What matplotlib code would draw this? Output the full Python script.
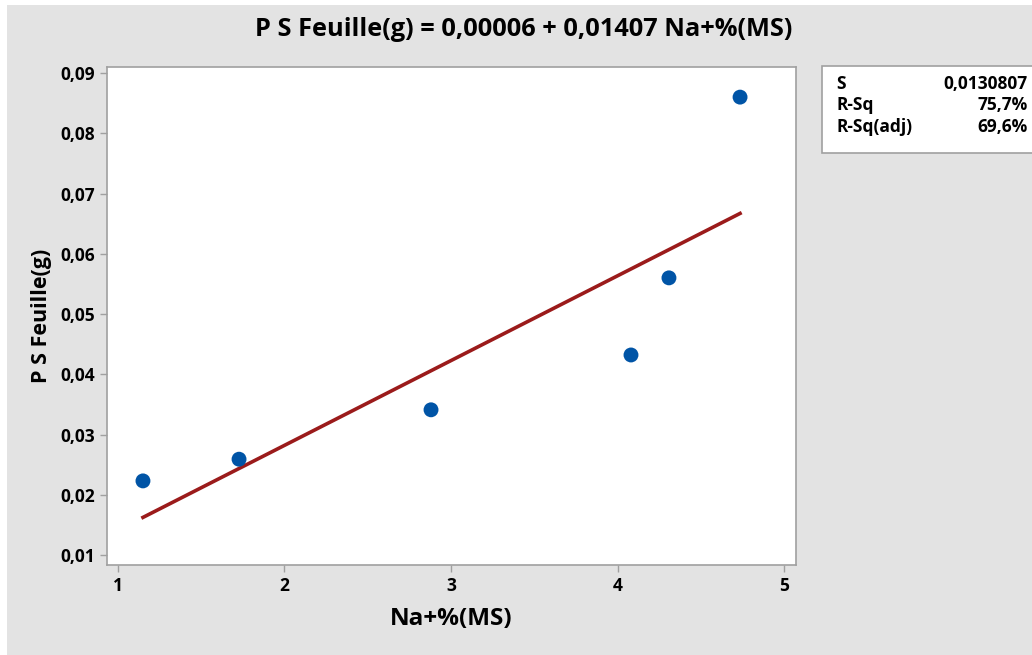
import matplotlib.pyplot as plt
import matplotlib.patches as patches
import numpy as np

# data
na_ms = [1.15, 1.727, 2.88, 4.081, 4.309, 4.736]
ps_feuille = [0.0223, 0.0259, 0.0341, 0.0432, 0.0560, 0.0860]
intercept = 0.00006
slope = 0.01407
x_ticks = [1, 2, 3, 4, 5]
y_ticks = [0.01, 0.02, 0.03, 0.04, 0.05, 0.06, 0.07, 0.08, 0.09]
stats_names = ["S", "R-Sq", "R-Sq(adj)"]
stats_vals = ["0,0130807", "75,7%", "69,6%"]

plt.rcParams['font.family'] = ['Open Sans', 'DejaVu Sans']

fig = plt.figure(figsize=(10.32, 6.55), dpi=100, facecolor='white')
# gray background panel (image has a thin white margin top/left)
fig.patches.append(patches.Rectangle((7/1032, -0.02), 1.1, 1.02 - 5/655, transform=fig.transFigure,
                                     facecolor='#E3E3E3', edgecolor='none', zorder=-10))

ax = fig.add_axes([107/1032, 1 - 565/655, (796 - 107)/1032, (565 - 67)/655])
ax.set_facecolor('white')

xs = np.array([min(na_ms), max(na_ms)])
ax.plot(xs, intercept + slope * xs, color='#9B1B1B', linewidth=2.6, zorder=2)
ax.scatter(na_ms, ps_feuille, s=115, color='#0054A6', zorder=3, edgecolors='none')

ax.set_xlim(0.934, 5.072)
ax.set_ylim(0.00834, 0.0910)
ax.set_xticks(x_ticks)
ax.set_yticks(y_ticks)
ax.set_xticklabels([str(t) for t in x_ticks])
ax.set_yticklabels([("%.2f" % t).replace('.', ',') for t in y_ticks])

for sp in ax.spines.values():
    sp.set_color('#A0A0A0')
    sp.set_linewidth(1.2)
ax.tick_params(colors='#A0A0A0', labelcolor='black', length=5, width=1, labelsize=12.5)
for lab in ax.get_xticklabels() + ax.get_yticklabels():
    lab.set_fontweight('bold')

ax.set_xlabel('Na+%(MS)', fontsize=17.5, fontweight='bold', labelpad=9)
ax.set_ylabel('P S Feuille(g)', fontsize=15.5, fontweight='bold', labelpad=6)
fig.text(523.5/1032, 1 - 29/655, 'P S Feuille(g) = 0,00006 + 0,01407 Na+%(MS)',
         ha='center', va='center', fontsize=18.3, fontweight='bold')

# stats box
fig.patches.append(patches.Rectangle((822/1032, 1 - 153/655), 220/1032, (153 - 66)/655,
                                     transform=fig.transFigure, facecolor='white',
                                     edgecolor='#A0A0A0', linewidth=1.2))
for i, (n, v) in enumerate(zip(stats_names, stats_vals)):
    yy = 1 - (84 + 21.5 * i) / 655
    fig.text(836/1032, yy, n, ha='left', va='center', fontsize=12.5, fontweight='bold')
    fig.text(1028/1032, yy, v, ha='right', va='center', fontsize=12.5, fontweight='bold')

plt.savefig('out.png', dpi=100, facecolor=fig.get_facecolor())
